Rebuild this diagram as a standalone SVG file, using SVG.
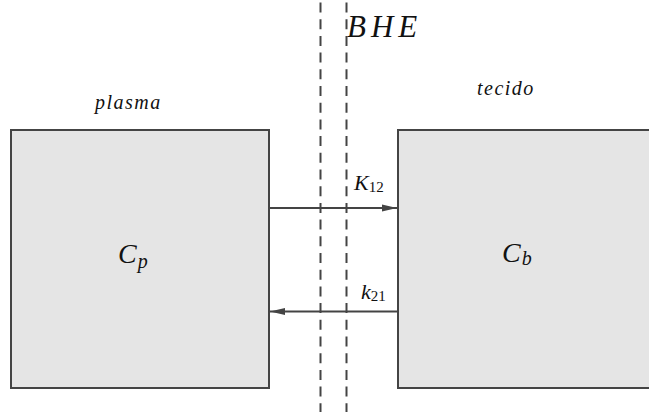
<svg xmlns="http://www.w3.org/2000/svg" width="649" height="412" viewBox="0 0 649 412">
<style>
.box{fill:#e5e5e5;stroke:#444;stroke-width:2}
.dash{stroke:#444;stroke-width:2;stroke-dasharray:10 6.7;stroke-dashoffset:14.2;fill:none}
.conn{stroke:#444;stroke-width:2;fill:none}
.t{font-family:"Liberation Serif","DejaVu Serif",serif;font-style:italic;fill:#111}
.sub{font-family:"Liberation Serif","DejaVu Serif",serif;font-style:normal;fill:#111}
</style>
<defs>
<marker id="ah" viewBox="0 0 16 8" refX="15" refY="4" markerWidth="16" markerHeight="8" markerUnits="userSpaceOnUse" orient="auto">
<path d="M0,0.5 L15,4 L0,7.5 Z" fill="#444"/>
</marker>
</defs>
<rect width="649" height="412" fill="#fff"/>
<g id="plasma">
<rect class="box" x="11" y="130" width="258" height="258"/>
<text class="t" x="95" y="109" font-size="20" letter-spacing="1.5">plasma</text>
<text class="t" x="118" y="263" font-size="28" letter-spacing="1">C<tspan font-size="20" dy="5">p</tspan></text>
</g>
<g id="tecido">
<rect class="box" x="398" y="130" width="260" height="258"/>
<text class="t" x="502" y="262" font-size="28" letter-spacing="1">C<tspan font-size="20" dy="3">b</tspan></text>
<text class="t" x="477" y="95" font-size="20" letter-spacing="1.5">tecido</text>
</g>
<g id="BHE">
<line class="dash" x1="320.5" y1="0" x2="320.5" y2="412"/>
<line class="dash" x1="346.5" y1="0" x2="346.5" y2="412"/>
<text class="t" x="347" y="37" font-size="31" letter-spacing="5">BHE</text>
</g>
<g id="connectors">
<line class="conn" x1="269" y1="208" x2="397" y2="208" marker-end="url(#ah)"/>
<line class="conn" x1="397" y1="311.5" x2="270" y2="311.5" marker-end="url(#ah)"/>
<text class="t" x="354" y="190" font-size="22">K<tspan class="sub" font-size="15" dy="2">12</tspan></text>
<text class="t" x="361" y="299" font-size="22">k<tspan class="sub" font-size="15" dy="2">21</tspan></text>
</g>
</svg>
